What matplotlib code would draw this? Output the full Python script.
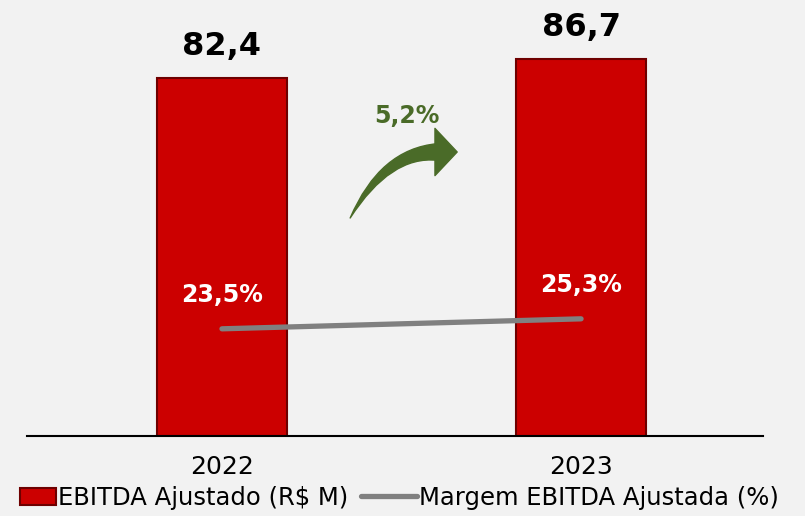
import matplotlib.pyplot as plt
from matplotlib.patches import FancyArrowPatch, Rectangle
from matplotlib.legend_handler import HandlerPatch

anos = ['2022', '2023']
ebitda = [82.4, 86.7]
margem = [23.5, 25.3]
ebitda_txt = ['82,4', '86,7']
margem_txt = ['23,5%', '25,3%']

fundo = '#f2f2f2'
vermelho = '#cc0000'
verde = '#4a6b28'

fig = plt.figure(figsize=(8.05, 5.16), dpi=100, facecolor=fundo)
ax = fig.add_axes([0.0335, 0.155, 0.9145, 0.845])
ax.set_facecolor(fundo)

x = list(range(len(anos)))
bars = ax.bar(x, ebitda, width=0.36, color=vermelho, edgecolor='#6e0000',
              linewidth=1.5, label='EBITDA Ajustado (R$ M)', zorder=2)
ax.set_xlim(-0.543, 1.507)
ax.set_ylim(0, 100.4)

for xi, v, t in zip(x, ebitda, ebitda_txt):
    ax.annotate(t, (xi, v), xytext=(0, 23), textcoords='offset points',
                ha='center', va='center', fontsize=23, fontweight='bold', color='black')

for s in ['top', 'right', 'left']:
    ax.spines[s].set_visible(False)
ax.spines['bottom'].set_linewidth(1.5)
ax.set_yticks([])
ax.set_xticks(x)
ax.set_xticklabels(anos, fontsize=18)
ax.tick_params(axis='x', length=0, pad=14)

ax2 = ax.twinx()
ax2.set_ylim(4.2, 82.7)
ax2.axis('off')
linha, = ax2.plot(x, margem, color='#808080', linewidth=3.8, solid_capstyle='round',
                  label='Margem EBITDA Ajustada (%)', zorder=3)
for xi, v, t in zip(x, margem, margem_txt):
    ax2.annotate(t, (xi, v), xytext=(0, 24), textcoords='offset points',
                 ha='center', va='center', fontsize=17, fontweight='bold', color='white')

# seta de crescimento: corpo afinando + ponta
cresc = (ebitda[1] / ebitda[0] - 1) * 100
corpo = FancyArrowPatch((0.60, 65.4), (0.357, 50.2),
                        connectionstyle='angle3,angleA=0,angleB=62',
                        arrowstyle='wedge,tail_width=0.6,shrink_factor=0.55',
                        mutation_scale=20, color=verde, shrinkA=0, shrinkB=0, zorder=4)
ax.add_patch(corpo)
ponta = FancyArrowPatch((0.585, 65.4), (0.655, 65.4),
                        arrowstyle='simple,head_length=1.6,head_width=3.4,tail_width=0.1',
                        mutation_scale=10, color=verde, shrinkA=0, shrinkB=0, zorder=4)
ax.add_patch(ponta)
ax.text(0.515, 73.7, f'{cresc:.1f}%'.replace('.', ','), ha='center', va='center',
        fontsize=17, fontweight='bold', color=verde)


def barra_legenda(legend, orig_handle, xdescent, ydescent, width, height, fontsize):
    return Rectangle((-xdescent + width * 0.36, -ydescent), width * 0.64, height)


fig.legend([bars[0], linha], [bars.get_label(), linha.get_label()],
           loc='lower center', bbox_to_anchor=(0.484, -0.03), ncol=2,
           frameon=False, fontsize=17.5, handlelength=2.3, handletextpad=0.1,
           columnspacing=0.5, handler_map={Rectangle: HandlerPatch(patch_func=barra_legenda)})

fig.savefig('out.png', dpi=100, facecolor=fundo)
